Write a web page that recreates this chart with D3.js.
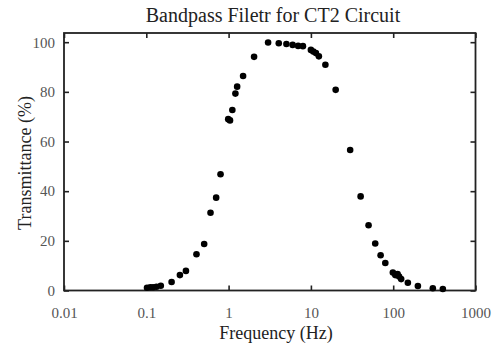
<!DOCTYPE html>
<html><head><meta charset="utf-8">
<script src="https://cdn.jsdelivr.net/npm/d3@7"></script>
<style>body{margin:0;background:#fff}svg{display:block}</style>
</head><body><svg id="c" width="499" height="347"></svg>
<script>
const frequency = [0.102,0.112,0.121,0.133,0.150,0.203,0.256,0.303,0.407,0.505,0.603,0.706,0.798,
  0.99,1.04,1.11,1.21,1.27,1.50,2.04,3.02,4.07,5.04,6.0,7.0,8.0,10.0,10.7,11.5,12.5,15.0,20.0,30.0,
  40.2,50.2,60.5,70.3,80.2,99.1,106,113,118,125,150.7,199.5,303,401];
const transmittance = [1.1,1.3,1.3,1.5,1.9,3.4,6.2,7.9,14.6,18.7,31.3,37.4,46.8,
  69.0,68.5,72.7,79.3,82.1,86.4,94.1,99.9,99.6,99.3,98.9,98.5,98.4,96.9,96.2,95.6,94.3,90.9,80.8,56.6,
  37.9,26.3,18.9,14.2,11.1,7.2,6.2,6.6,5.6,4.6,3.1,1.8,0.9,0.6];
const xTicks = [0.01,0.1,1,10,100,1000];
const xTickLabels = ["0.01","0.1","1","10","100","1000"];
const yTicks = [0,20,40,60,80,100];

const svg = d3.select("#c");
const L=64, R=475.5, T=33, B=290.5;
const x = d3.scaleLog().domain([0.01,1000]).range([L,R]);
const y = d3.scaleLinear().domain([0,103.7]).range([B,T]);
const font = "'Liberation Serif','Times New Roman',serif";

svg.append("text").attr("x",273).attr("y",22).attr("text-anchor","middle")
  .attr("font-family",font).attr("font-size",20).attr("fill","#222")
  .text("Bandpass Filetr for CT2 Circuit");

const g = svg.append("g");
g.append("g").attr("transform",`translate(0,${B})`)
  .call(d3.axisBottom(x).tickValues(xTicks).tickSize(-5).tickFormat((d,i)=>xTickLabels[i]).tickPadding(17))
  .call(a=>{a.select(".domain").remove();a.selectAll("line").attr("stroke","#222").attr("stroke-width",1.6);
    a.selectAll("text").attr("font-family",font).attr("font-size",15).attr("fill","#555");});
g.append("g").attr("transform",`translate(0,${T})`)
  .call(d3.axisTop(x).tickValues(xTicks).tickSize(-5).tickFormat(""))
  .call(a=>{a.select(".domain").remove();a.selectAll("line").attr("stroke","#222").attr("stroke-width",1.6);});
g.append("g").attr("transform",`translate(${L},0)`)
  .call(d3.axisLeft(y).tickValues(yTicks).tickSize(-5).tickPadding(9))
  .call(a=>{a.select(".domain").remove();a.selectAll("line").attr("stroke","#222").attr("stroke-width",1.6);
    a.selectAll("text").attr("font-family",font).attr("font-size",15).attr("fill","#555");});
g.append("g").attr("transform",`translate(${R},0)`)
  .call(d3.axisRight(y).tickValues(yTicks).tickSize(-5).tickFormat(""))
  .call(a=>{a.select(".domain").remove();a.selectAll("line").attr("stroke","#222").attr("stroke-width",1.6);});

svg.append("rect").attr("x",L).attr("y",T).attr("width",R-L).attr("height",B-T)
  .attr("fill","none").attr("stroke","#222").attr("stroke-width",1.8);

svg.append("g").selectAll("circle").data(frequency).join("circle")
  .attr("cx",d=>x(d)).attr("cy",(d,i)=>y(transmittance[i])).attr("r",3.3).attr("fill","#000");

svg.append("text").attr("x",276).attr("y",339).attr("text-anchor","middle")
  .attr("font-family",font).attr("font-size",18).attr("fill","#222").text("Frequency (Hz)");
svg.append("text").attr("transform","translate(31,163) rotate(-90)").attr("text-anchor","middle")
  .attr("font-family",font).attr("font-size",18).attr("fill","#222").text("Transmittance (%)");
</script></body></html>
